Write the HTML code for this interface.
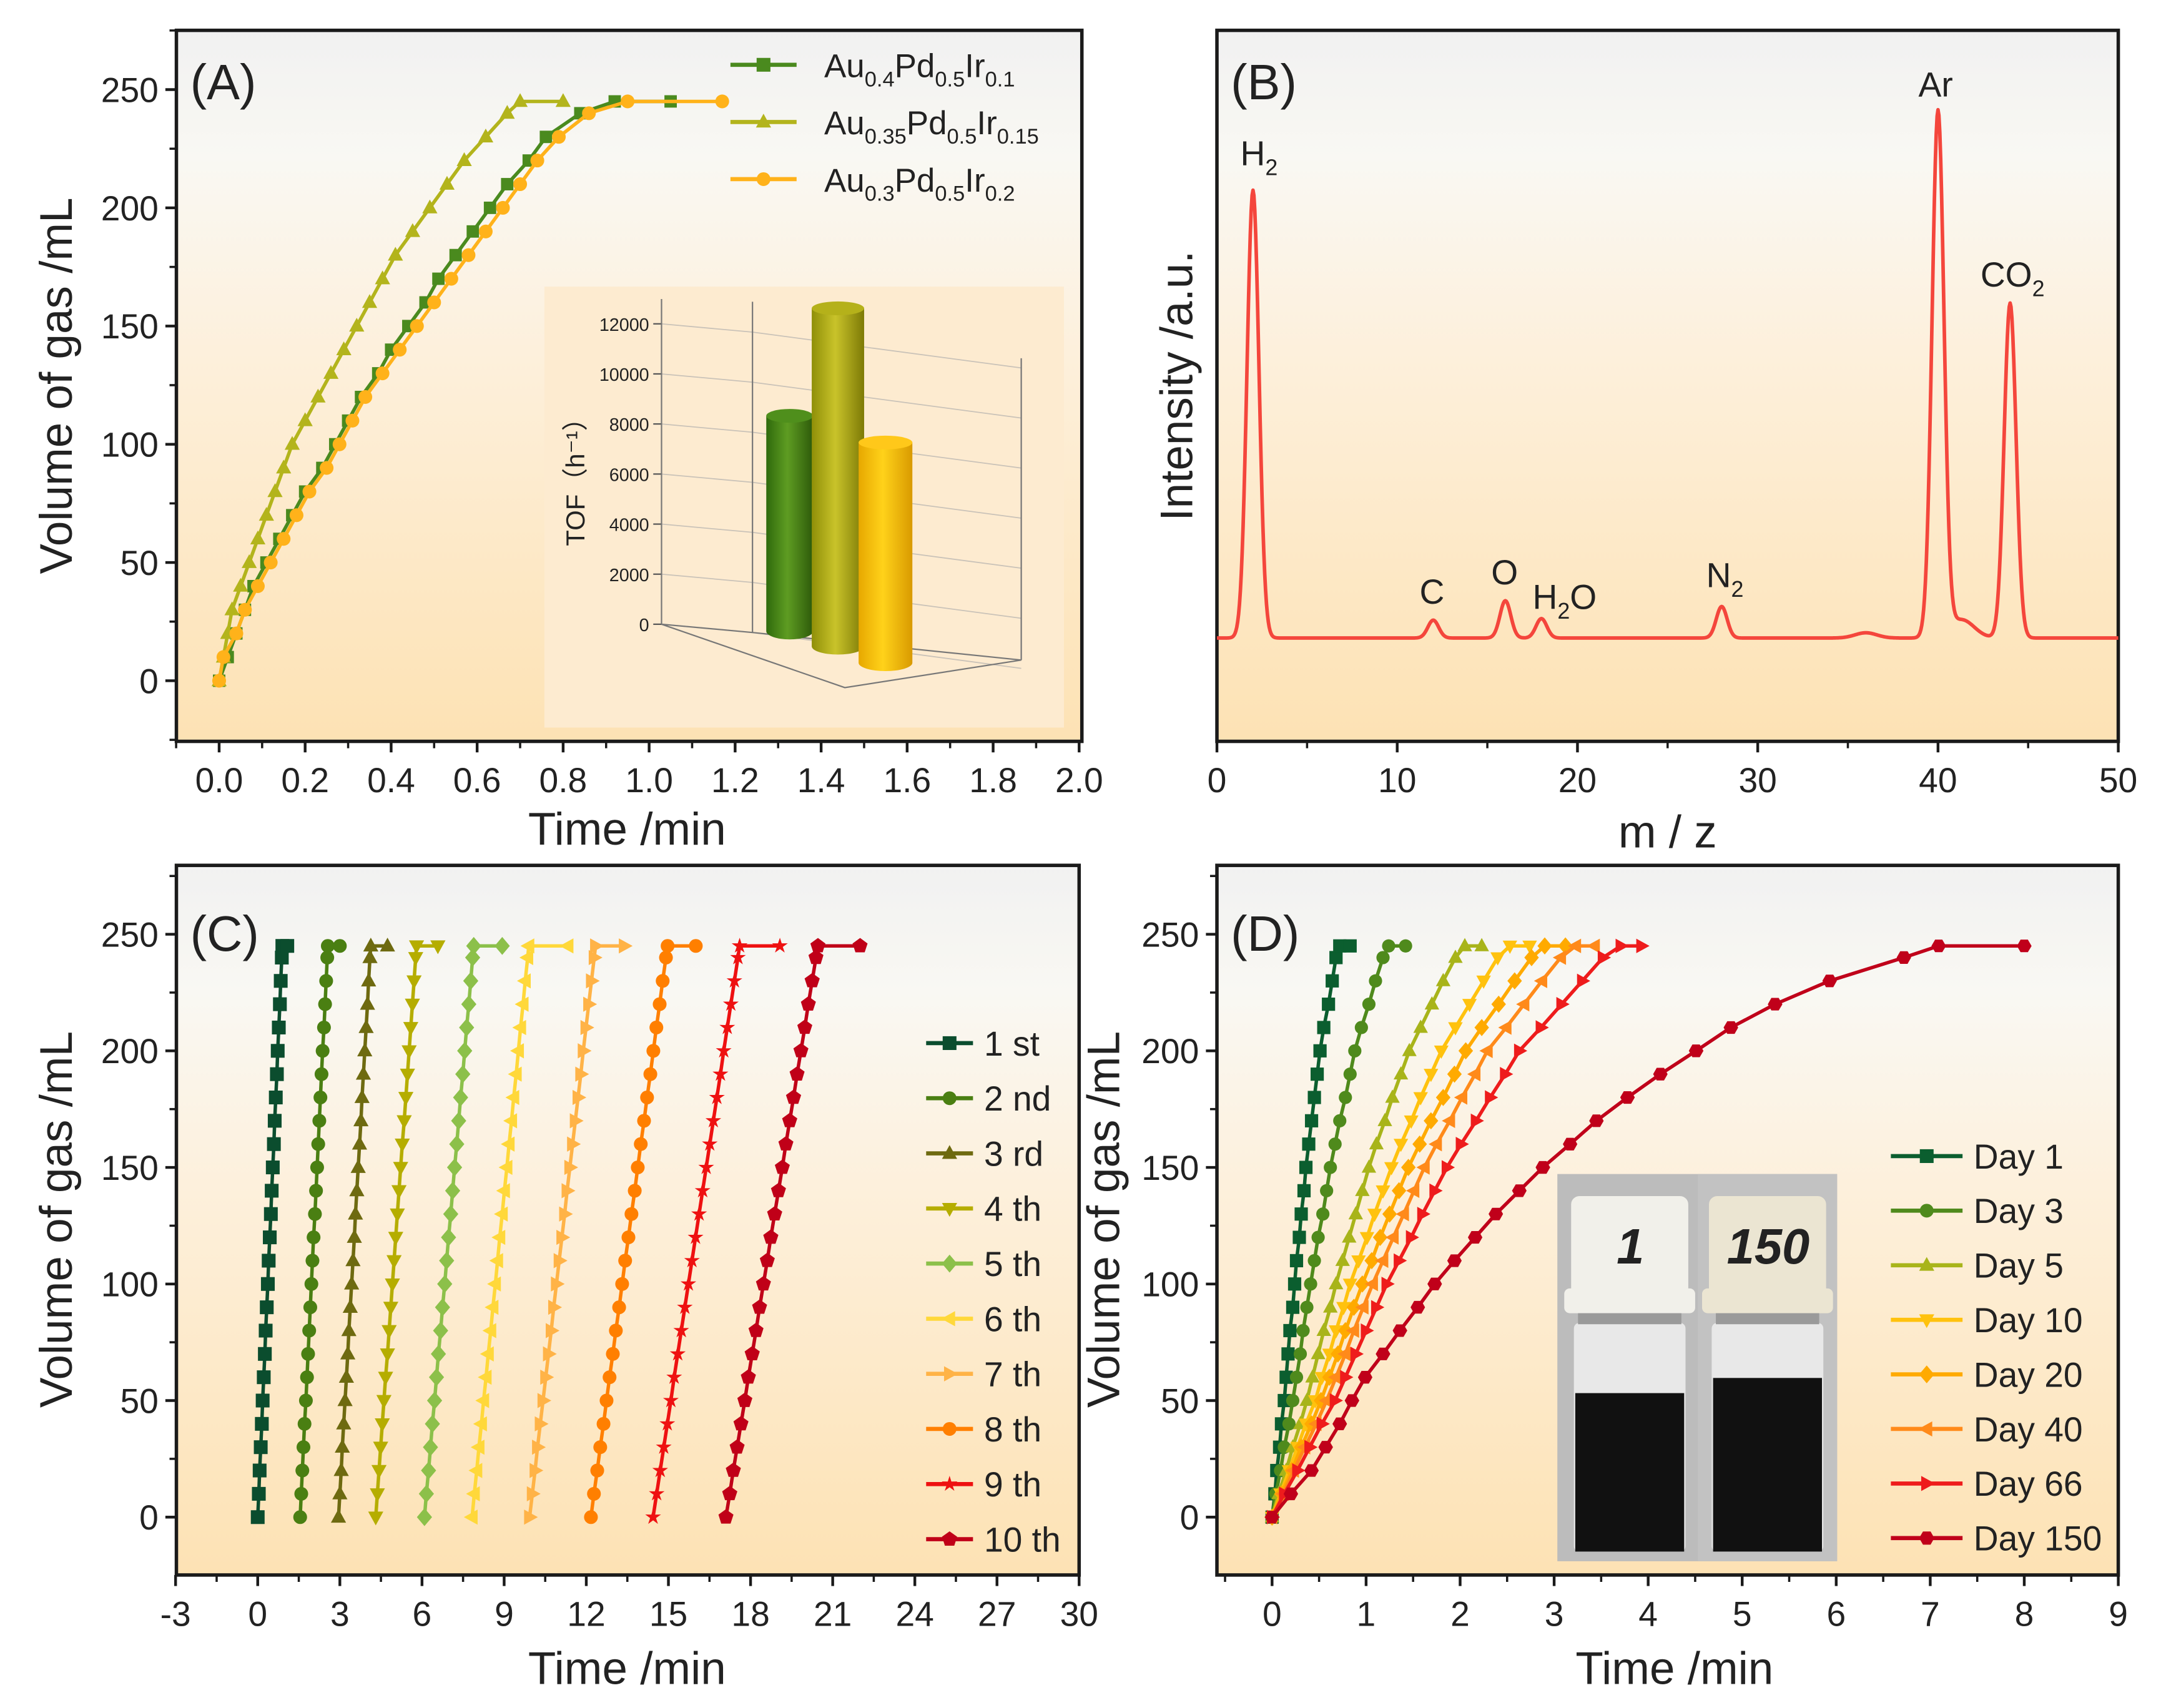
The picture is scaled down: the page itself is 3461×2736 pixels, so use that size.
<!DOCTYPE html>
<html><head><meta charset="utf-8">
<style>
html,body{margin:0;padding:0;background:#fff;}
svg{display:block;}
text{font-family:"Liberation Sans","DejaVu Sans",sans-serif;fill:#222;}
</style></head>
<body>
<svg id="fig" xmlns="http://www.w3.org/2000/svg" width="3461" height="2736" viewBox="0 0 1568 1239.5">
<defs>
<linearGradient id="bg" x1="0" y1="0" x2="0" y2="1">
<stop offset="0" stop-color="#f1f1f1"/><stop offset="0.18" stop-color="#f9f8f3"/><stop offset="0.45" stop-color="#fdf0dc"/><stop offset="1" stop-color="#fde2b4"/>
</linearGradient>
<linearGradient id="gGreen" x1="0" x2="1"><stop offset="0" stop-color="#2f6a0c"/><stop offset="0.45" stop-color="#5e9c22"/><stop offset="1" stop-color="#2d5a0a"/></linearGradient>
<linearGradient id="gOlive" x1="0" x2="1"><stop offset="0" stop-color="#8f8f08"/><stop offset="0.45" stop-color="#c9c32a"/><stop offset="1" stop-color="#7d7a06"/></linearGradient>
<linearGradient id="gYel" x1="0" x2="1"><stop offset="0" stop-color="#e7a800"/><stop offset="0.45" stop-color="#ffd21a"/><stop offset="1" stop-color="#d99a00"/></linearGradient>
</defs>
<rect x="128" y="22" width="657" height="516" fill="url(#bg)"/>
<rect x="883" y="22" width="654" height="516" fill="url(#bg)"/>
<rect x="128" y="628" width="655" height="515" fill="url(#bg)"/>
<rect x="883" y="628" width="654" height="515" fill="url(#bg)"/>
<g id="layer"></g>
<text x="138" y="72" font-size="36">(A)</text>
<text x="893" y="72" font-size="36">(B)</text>
<text x="138" y="690" font-size="36">(C)</text>
<text x="893" y="690" font-size="36">(D)</text>
<text transform="translate(52,280) rotate(-90)" text-anchor="middle" font-size="33">Volume of gas /mL</text>
<text x="455" y="613" text-anchor="middle" font-size="33">Time /min</text>
<text transform="translate(865,280) rotate(-90)" text-anchor="middle" font-size="33">Intensity /a.u.</text>
<text x="1210" y="615" text-anchor="middle" font-size="33">m / z</text>
<text transform="translate(52,885) rotate(-90)" text-anchor="middle" font-size="33">Volume of gas /mL</text>
<text x="455" y="1222" text-anchor="middle" font-size="33">Time /min</text>
<text transform="translate(812,885) rotate(-90)" text-anchor="middle" font-size="33">Volume of gas /mL</text>
<text x="1215" y="1222" text-anchor="middle" font-size="33">Time /min</text>
</svg>
<script>
const NS='http://www.w3.org/2000/svg';
// ---------- Panel A data ----------
const volsA=[0,10,20,30,40,50,60,70,80,90,100,110,120,130,140,150,160,170,180,190,200,210,220,230,240,245,245];
const tA_Au04=[0,0.02,0.04,0.06,0.08,0.11,0.14,0.17,0.20,0.24,0.27,0.30,0.33,0.37,0.40,0.44,0.48,0.51,0.55,0.59,0.63,0.67,0.72,0.76,0.84,0.92,1.05];
const tA_Au035=[0,0.01,0.02,0.03,0.05,0.07,0.09,0.11,0.13,0.15,0.17,0.20,0.23,0.26,0.29,0.32,0.35,0.38,0.41,0.45,0.49,0.53,0.57,0.62,0.67,0.70,0.80];
const tA_Au03=[0,0.01,0.04,0.06,0.09,0.12,0.15,0.18,0.21,0.25,0.28,0.31,0.34,0.38,0.42,0.46,0.50,0.54,0.58,0.62,0.66,0.70,0.74,0.79,0.86,0.95,1.17];
const xTicksA=['0.0','0.2','0.4','0.6','0.8','1.0','1.2','1.4','1.6','1.8','2.0'];
const yTicksVol=['0','50','100','150','200','250'];
const tofLabels=['0','2000','4000','6000','8000','10000','12000'];
const tofValues=[8600,13500,8800];
// ---------- Panel B data ----------
const peakMz=[2,12,16,18,28,36,40,41.3,44];
const peakHeight=[85.3,3.4,7.1,3.7,6.0,1.0,100,3.5,63.8];
const peakSigma=[0.33,0.3,0.3,0.3,0.3,0.6,0.33,0.7,0.33];
const xTicksB=['0','10','20','30','40','50'];
// ---------- Panel C data ----------
const volsC=[0,10,20,30,40,50,60,70,80,90,100,110,120,130,140,150,160,170,180,190,200,210,220,230,240,245,245];
const cyc1=[0,0.04,0.07,0.11,0.15,0.18,0.22,0.26,0.29,0.33,0.37,0.40,0.44,0.48,0.51,0.55,0.59,0.62,0.66,0.70,0.73,0.77,0.81,0.84,0.88,0.90,1.08];
const cyc2=[1.55,1.59,1.63,1.67,1.71,1.76,1.80,1.84,1.88,1.92,1.96,2.00,2.04,2.09,2.13,2.17,2.21,2.25,2.29,2.33,2.37,2.42,2.46,2.50,2.54,2.56,3.0];
const cyc3=[2.95,3.00,3.05,3.09,3.14,3.19,3.24,3.29,3.33,3.38,3.43,3.48,3.53,3.57,3.62,3.67,3.72,3.77,3.81,3.86,3.91,3.96,4.01,4.05,4.10,4.13,4.74];
const cyc4=[4.31,4.37,4.43,4.49,4.55,4.61,4.67,4.74,4.80,4.86,4.92,4.98,5.04,5.10,5.16,5.22,5.28,5.35,5.41,5.47,5.53,5.59,5.65,5.71,5.77,5.80,6.58];
const cyc5=[6.09,6.16,6.24,6.31,6.38,6.46,6.53,6.60,6.68,6.75,6.83,6.90,6.97,7.05,7.12,7.19,7.27,7.34,7.41,7.49,7.56,7.63,7.71,7.78,7.85,7.89,8.93];
const cyc6=[7.83,7.91,8.00,8.08,8.17,8.25,8.34,8.42,8.51,8.59,8.68,8.76,8.84,8.93,9.01,9.10,9.18,9.27,9.35,9.44,9.52,9.60,9.69,9.77,9.86,9.90,11.33];
const cyc7=[9.93,10.03,10.13,10.22,10.32,10.42,10.52,10.62,10.72,10.81,10.91,11.01,11.11,11.21,11.30,11.40,11.50,11.60,11.70,11.80,11.89,11.99,12.09,12.19,12.29,12.34,13.39];
const cyc8=[12.17,12.28,12.40,12.51,12.63,12.74,12.85,12.97,13.08,13.20,13.31,13.42,13.54,13.65,13.77,13.88,13.99,14.11,14.22,14.34,14.45,14.56,14.68,14.79,14.91,14.97,16.0];
const cyc9=[14.44,14.57,14.70,14.83,14.96,15.09,15.21,15.34,15.47,15.60,15.73,15.86,15.99,16.12,16.25,16.38,16.51,16.64,16.77,16.90,17.02,17.15,17.28,17.41,17.54,17.60,19.07];
const cyc10=[17.10,17.24,17.37,17.51,17.65,17.79,17.92,18.06,18.20,18.33,18.47,18.61,18.74,18.88,19.02,19.16,19.29,19.43,19.57,19.70,19.84,19.98,20.11,20.25,20.39,20.46,22.0];
const cycNames=['1 st','2 nd','3 rd','4 th','5 th','6 th','7 th','8 th','9 th','10 th'];
const xTicksC=['-3','0','3','6','9','12','15','18','21','24','27','30'];
// ---------- Panel D data ----------
const volsD=[0,10,20,30,40,50,60,70,80,90,100,110,120,130,140,150,160,170,180,190,200,210,220,230,240,245,245];
const day1=[0,0.03,0.05,0.08,0.10,0.13,0.15,0.17,0.19,0.22,0.24,0.26,0.29,0.31,0.34,0.36,0.39,0.42,0.45,0.48,0.51,0.55,0.60,0.64,0.68,0.72,0.83];
const day3=[0,0.04,0.09,0.13,0.18,0.22,0.26,0.30,0.33,0.37,0.41,0.45,0.49,0.54,0.58,0.62,0.67,0.72,0.78,0.83,0.88,0.95,1.03,1.10,1.18,1.24,1.42];
const day5=[0,0.07,0.15,0.22,0.30,0.37,0.43,0.49,0.55,0.62,0.68,0.75,0.82,0.89,0.96,1.03,1.11,1.20,1.28,1.37,1.46,1.58,1.70,1.82,1.95,2.05,2.23];
const day10=[0,0.09,0.18,0.27,0.36,0.46,0.53,0.61,0.68,0.76,0.83,0.92,1.01,1.09,1.18,1.27,1.37,1.48,1.58,1.69,1.80,1.95,2.10,2.25,2.40,2.53,2.74];
const day20=[0,0.10,0.21,0.31,0.42,0.52,0.61,0.70,0.78,0.87,0.96,1.06,1.15,1.25,1.35,1.45,1.57,1.69,1.82,1.94,2.06,2.23,2.41,2.58,2.76,2.90,3.12];
const day40=[0,0.12,0.23,0.35,0.47,0.58,0.68,0.78,0.87,0.97,1.07,1.18,1.29,1.40,1.51,1.62,1.75,1.89,2.02,2.16,2.29,2.49,2.68,2.87,3.07,3.23,3.43];
const day66=[0,0.13,0.27,0.40,0.53,0.67,0.78,0.89,1.00,1.11,1.22,1.35,1.48,1.60,1.73,1.86,2.01,2.17,2.32,2.48,2.63,2.86,3.08,3.30,3.52,3.71,3.93];
const day150=[0,0.20,0.42,0.57,0.72,0.85,0.99,1.18,1.36,1.55,1.73,1.94,2.16,2.38,2.63,2.88,3.17,3.45,3.78,4.13,4.51,4.88,5.35,5.93,6.72,7.09,8.0];
const dayNames=['Day 1','Day 3','Day 5','Day 10','Day 20','Day 40','Day 66','Day 150'];
const xTicksD=['0','1','2','3','4','5','6','7','8','9'];

const layer=document.getElementById('layer');
function mk(tag,attrs,parent){const e=document.createElementNS(NS,tag);for(const k in attrs)e.setAttribute(k,attrs[k]);(parent||layer).appendChild(e);return e;}
function lin(d0,d1,r0,r1){return v=>r0+(v-d0)*(r1-r0)/(d1-d0);}

const xA=lin(0,2,159,783), yA=lin(0,250,494,65);
const xB=lin(0,50,883,1537), yB=lin(0,100,463,82);
const xC=lin(0,30,187,783), yC=lin(0,250,1101,678);
const xD=lin(0,9,923,1537), yD=lin(0,250,1101,678);

function marker(g,type,x,y,s,color){
  let e;
  if(type==='sq') e=mk('rect',{x:x-s,y:y-s,width:2*s,height:2*s,fill:color},g);
  else if(type==='ci') e=mk('circle',{cx:x,cy:y,r:s,fill:color},g);
  else if(type==='tu') e=mk('polygon',{points:`${x},${y-s*1.2} ${x-s*1.1},${y+s*0.8} ${x+s*1.1},${y+s*0.8}`,fill:color},g);
  else if(type==='td') e=mk('polygon',{points:`${x},${y+s*1.2} ${x-s*1.1},${y-s*0.8} ${x+s*1.1},${y-s*0.8}`,fill:color},g);
  else if(type==='di') e=mk('polygon',{points:`${x},${y-s*1.3} ${x+s*1.1},${y} ${x},${y+s*1.3} ${x-s*1.1},${y}`,fill:color},g);
  else if(type==='tl') e=mk('polygon',{points:`${x-s*1.2},${y} ${x+s*0.8},${y-s*1.1} ${x+s*0.8},${y+s*1.1}`,fill:color},g);
  else if(type==='tr') e=mk('polygon',{points:`${x+s*1.2},${y} ${x-s*0.8},${y-s*1.1} ${x-s*0.8},${y+s*1.1}`,fill:color},g);
  else if(type==='st'){let p=[];for(let i=0;i<10;i++){const a=-Math.PI/2+i*Math.PI/5,r=i%2?s*0.45:s*1.2;p.push((x+r*Math.cos(a)).toFixed(1)+','+(y+r*Math.sin(a)).toFixed(1));}e=mk('polygon',{points:p.join(' '),fill:color},g);}
  else if(type==='pe'){let p=[];for(let i=0;i<5;i++){const a=-Math.PI/2+i*2*Math.PI/5;p.push((x+s*1.15*Math.cos(a)).toFixed(1)+','+(y+s*1.15*Math.sin(a)).toFixed(1));}e=mk('polygon',{points:p.join(' '),fill:color},g);}
  else if(type==='hx'){let p=[];for(let i=0;i<6;i++){const a=i*Math.PI/3;p.push((x+s*1.1*Math.cos(a)).toFixed(1)+','+(y+s*1.1*Math.sin(a)).toFixed(1));}e=mk('polygon',{points:p.join(' '),fill:color},g);}
  return e;
}

function series(name,xs,ys,xv,yv,color,mtype,ms,lw){
  const g=mk('g',{});
  
  
  const pts=xv.map((t,i)=>xs(t).toFixed(2)+','+ys(yv[i]).toFixed(2)).join(' ');
  const pl=mk('polyline',{points:pts,fill:'none',stroke:color,'stroke-width':lw,'stroke-linejoin':'round'},g);
  
  
  xv.forEach((t,i)=>{
    const m=marker(g,mtype,xs(t),ys(yv[i]),ms,color);
    
    
  });
}

function axes(id,x0,x1,y0,y1,xs,xlabels,xminorStep,ys,ylabels,yminorStep,xdom,ydom){
  const g=mk('g',{});
  
  
  const fr=mk('rect',{x:x0,y:y0,width:x1-x0,height:y1-y0,fill:'none',stroke:'#1a1a1a','stroke-width':2.5},g);
  
  
  xlabels.forEach(l=>{
    const v=parseFloat(l),x=xs(v);
    const t=mk('line',{x1:x,y1:y1,x2:x,y2:y1+8,stroke:'#1a1a1a','stroke-width':2},g);
    
    
    const tx=mk('text',{x:x,y:y1+37,'text-anchor':'middle','font-size':25},g);
    
    
    tx.textContent=l;
  });
  for(let v=xdom[0];v<=xdom[1]+1e-9;v+=xminorStep){
    const x=xs(v); if(x<x0-0.5||x>x1+0.5)continue;
    const t=mk('line',{x1:x,y1:y1,x2:x,y2:y1+5,stroke:'#1a1a1a','stroke-width':1.6},g);
    
    
  }
  if(ylabels){
    ylabels.forEach(l=>{
      const v=parseFloat(l),y=ys(v);
      const t=mk('line',{x1:x0,y1:y,x2:x0-8,y2:y,stroke:'#1a1a1a','stroke-width':2},g);
      
      
      const tx=mk('text',{x:x0-13,y:y+9,'text-anchor':'end','font-size':25},g);
      
      
      tx.textContent=l;
    });
    for(let v=ydom[0];v<=ydom[1];v+=yminorStep){
      const y=ys(v); if(y<y0||y>y1)continue;
      const t=mk('line',{x1:x0,y1:y,x2:x0-5,y2:y,stroke:'#1a1a1a','stroke-width':1.6},g);
      
      
    }
  }
}

function subText(parent,x,y,parts,fs,name){
  const t=mk('text',{x:x,y:y,'font-size':fs},parent);
  
  
  parts.forEach(([s,sub])=>{
    const sp=mk('tspan',{},t);
    if(sub){sp.setAttribute('font-size',fs*0.65);sp.setAttribute('dy',fs*0.28);}
    else if(t.childNodes.length>1){sp.setAttribute('dy',-fs*0.28);}
    sp.textContent=s;
  });
  return t;
}

// ================= Panel A =================
axes('a',128,785,22,538,xA,xTicksA,0.1,yA,yTicksVol,25,[-0.1,2.0],[-25,275]);
const ins=mk('g',{});


const insBg=mk('rect',{x:395,y:208,width:377,height:320,fill:'#fdebd0'},ins);


const tofY=lin(0,12000,453,235);
tofLabels.forEach(l=>{
  const v=parseFloat(l),y=tofY(v);
  const gl=mk('polyline',{points:`480,${y} 546,${y+6} 741,${y+32}`,fill:'none',stroke:'#c9c2b8','stroke-width':0.8},ins);
  
  
  const tk=mk('line',{x1:474,y1:y,x2:480,y2:y,stroke:'#555','stroke-width':1},ins);
  
  
  const tx=mk('text',{x:471,y:y+5,'text-anchor':'end','font-size':13,fill:'#333'},ins);
  
  
  tx.textContent=l;
});
[['480,217 480,453','tof-axis'],['546,219 546,459','tof-back-edge'],['480,453 613,499 741,479 546,459 480,453','tof-floor'],['741,479 741,260','tof-right-edge']].forEach(([p,n])=>{
  const e=mk('polyline',{points:p,fill:'none',stroke:'#777','stroke-width':1},ins);
  
  
});
const ttl=mk('text',{transform:'translate(424,345) rotate(-90)','text-anchor':'middle','font-size':19,fill:'#222'},ins);


ttl.textContent='TOF（h⁻¹）';
const barX=[556,589,623],barW=[34,38,39],barBase=[458,469,481],barFill=['url(#gGreen)','url(#gOlive)','url(#gYel)'],barTop=['#4f8f1c','#b5b11a','#ffc81a'];
tofValues.forEach((v,i)=>{
  const top=barBase[i]-v*(453-235)/12000;
  const b=mk('path',{d:`M${barX[i]},${top} L${barX[i]},${barBase[i]} A${barW[i]/2},6 0 0 0 ${barX[i]+barW[i]},${barBase[i]} L${barX[i]+barW[i]},${top} Z`,fill:barFill[i]},ins);
  
  
  const c=mk('ellipse',{cx:barX[i]+barW[i]/2,cy:top,rx:barW[i]/2,ry:5,fill:barTop[i]},ins);
  
  
});
series('series-au04',xA,yA,tA_Au04,volsA,'#4a8a1e','sq',4.5,2.5);
series('series-au035',xA,yA,tA_Au035,volsA,'#b3b41c','tu',5,2.5);
series('series-au03',xA,yA,tA_Au03,volsA,'#ffb21a','ci',5,2.5);
const legA=[['#4a8a1e','sq',[['Au',0],['0.4',1],['Pd',0],['0.5',1],['Ir',0],['0.1',1]]],['#b3b41c','tu',[['Au',0],['0.35',1],['Pd',0],['0.5',1],['Ir',0],['0.15',1]]],['#ffb21a','ci',[['Au',0],['0.3',1],['Pd',0],['0.5',1],['Ir',0],['0.2',1]]]];
legA.forEach((d,i)=>{
  const y=47+i*41.5;
  const g=mk('g',{});
  
  
  mk('line',{x1:530,y1:y,x2:578,y2:y,stroke:d[0],'stroke-width':3},g);
  marker(g,d[1],554,y,5,d[0]);
  subText(g,598,y+9,d[2],24,'legend-label-a-'+i);
});

// ================= Panel B =================
axes('b',883,1537,22,538,xB,xTicksB,5,yB,null,0,[0,50],[0,0]);
(function(){
  const pts=[];
  for(let m=0;m<=50.001;m+=0.05){
    let v=0;
    for(let k=0;k<peakMz.length;k++){const d=(m-peakMz[k])/peakSigma[k];v+=peakHeight[k]*Math.exp(-0.5*d*d);}
    pts.push(xB(m).toFixed(2)+','+yB(v).toFixed(2));
  }
  const pl=mk('polyline',{points:pts.join(' '),fill:'none',stroke:'#f4463c','stroke-width':2.6,'stroke-linejoin':'round'});
  
  
})();
const peakLabels=[[[['H',0],['2',1]],900,120],[[['C',0]],1030,438],[[['O',0]],1082,424],[[['H',0],['2',1],['O',0]],1112,442],[[['N',0],['2',1]],1238,426],[[['Ar',0]],1392,70],[[['CO',0],['2',1]],1437,208]];
peakLabels.forEach((p,i)=>{subText(layer,p[1],p[2],p[0],25,'peak-label-'+i);});

// ================= Panel C =================
axes('c',128,783,628,1143,xC,xTicksC,1.5,yC,yTicksVol,25,[-3,30],[-25,275]);
const cycData=[cyc1,cyc2,cyc3,cyc4,cyc5,cyc6,cyc7,cyc8,cyc9,cyc10];
const cycColor=['#0b4d2e','#4a7f12','#6e6a10','#b5ad00','#8cc04a','#ffd83a','#ffb347','#ff7f00','#ee1111','#c00018'];
const cycMark=['sq','ci','tu','td','di','tl','tr','ci','st','pe'];
cycData.forEach((d,i)=>series('cycle-'+(i+1),xC,yC,d,volsC,cycColor[i],cycMark[i],5,2.5));
cycNames.forEach((n,i)=>{
  const y=757+i*40;
  const g=mk('g',{});
  
  
  mk('line',{x1:672,y1:y,x2:706,y2:y,stroke:cycColor[i],'stroke-width':3},g);
  marker(g,cycMark[i],689,y,5,cycColor[i]);
  const t=mk('text',{x:714,y:y+9,'font-size':25},g);
  
  
  t.textContent=n;
});

// ================= Panel D =================
axes('d',883,1537,628,1143,xD,xTicksD,0.5,yD,yTicksVol,25,[-0.5,9],[-25,275]);
(function(){
  const g=mk('g',{});
  
  
  mk('rect',{x:1130,y:852,width:203,height:281,fill:'#bcbcbc'},g);
  mk('rect',{x:1232,y:852,width:101,height:281,fill:'#c2c2c2'},g);
  [[1140,'#f1f0ea',1011,'1',1183],[1240,'#ebe5d2',1000,'150',1283]].forEach((v,i)=>{
    const vg=mk('g',{},g);
    
    
    mk('rect',{x:v[0]+2,y:960,width:81,height:166,rx:4,fill:'#e8e8e8'},vg);
    mk('rect',{x:v[0],y:868,width:85,height:80,rx:6,fill:v[1]},vg);
    mk('rect',{x:v[0]-5,y:935,width:95,height:18,rx:4,fill:v[1]},vg);
    mk('rect',{x:v[0]+5,y:953,width:75,height:8,fill:'#9a9a9a'},vg);
    mk('rect',{x:v[0]+3,y:v[2],width:79,height:1126-v[2],fill:'#111'},vg);
    const t=mk('text',{x:v[4],y:917,'text-anchor':'middle','font-size':36,'font-style':'italic','font-weight':'bold',fill:'#111'},vg);
    
    
    t.textContent=v[3];
  });
})();
const dayData=[day1,day3,day5,day10,day20,day40,day66,day150];
const dayColor=['#0b5e2f','#4f8a1c','#a8b41a','#ffc20e','#ffaa00','#ff8a1a','#ee1c1c','#c0001a'];
const dayMark=['sq','ci','tu','td','di','tl','tr','hx'];
dayData.forEach((d,i)=>series('day-'+dayNames[i].split(' ')[1],xD,yD,d,volsD,dayColor[i],dayMark[i],4.8,2.5));
dayNames.forEach((n,i)=>{
  const y=839+i*39.6;
  const g=mk('g',{});
  
  
  mk('line',{x1:1372,y1:y,x2:1424,y2:y,stroke:dayColor[i],'stroke-width':3},g);
  marker(g,dayMark[i],1398,y,5,dayColor[i]);
  const t=mk('text',{x:1432,y:y+9,'font-size':25},g);
  
  
  t.textContent=n;
});
</script>
</body></html>
